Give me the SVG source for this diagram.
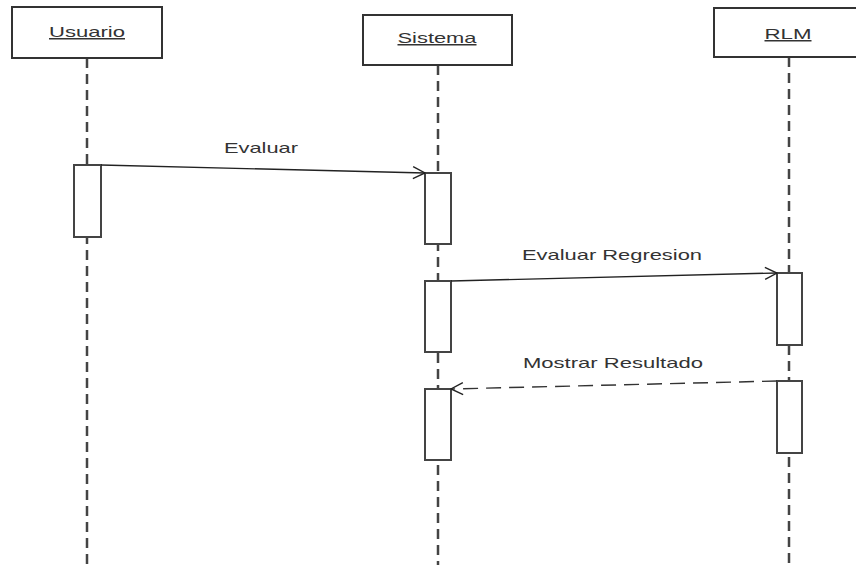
<svg xmlns="http://www.w3.org/2000/svg" width="856" height="565" viewBox="0 0 856 565">
  <style>
    .head { fill: #ffffff; stroke: #333333; stroke-width: 2; }
    .act { fill: #ffffff; stroke: #444444; stroke-width: 2; }
    .life { stroke: #444444; stroke-width: 2.5; stroke-dasharray: 10 6; fill: none; }
    .msg { stroke: #222222; stroke-width: 1.4; fill: none; }
    .ret { stroke: #333333; stroke-width: 1.4; fill: none; stroke-dasharray: 15 8; }
    .title { font-family: "Liberation Sans", Arial, sans-serif; font-size: 15px; fill: #333333; text-decoration: underline; }
    .label { font-family: "Liberation Sans", Arial, sans-serif; font-size: 15px; fill: #333333; }
  </style>
  <defs>
    <marker id="open" viewBox="0 0 14 14" refX="13" refY="7" markerWidth="14" markerHeight="14" markerUnits="userSpaceOnUse" orient="auto">
      <path d="M1,1 L13,7 L1,13" fill="none" stroke="#222222" stroke-width="1.4"/>
    </marker>
  </defs>
  <rect width="856" height="565" fill="#ffffff"/>

  <!-- lifelines -->
  <g id="lifelines">
    <line class="life" x1="87" y1="58" x2="87" y2="565"/>
    <line class="life" x1="438" y1="65" x2="438" y2="565"/>
    <line class="life" x1="789" y1="57" x2="789" y2="565"/>
  </g>

  <g id="usuario">
    <rect class="head" x="12" y="7" width="150" height="51"/>
    <text class="title" x="87" y="37" text-anchor="middle" textLength="76" lengthAdjust="spacingAndGlyphs">Usuario</text>
    <rect class="act" x="74" y="165" width="27" height="72"/>
  </g>

  <g id="sistema">
    <rect class="head" x="363" y="15" width="149" height="50"/>
    <text class="title" x="437" y="43" text-anchor="middle" textLength="79" lengthAdjust="spacingAndGlyphs">Sistema</text>
    <rect class="act" x="425" y="173" width="26" height="71"/>
    <rect class="act" x="425" y="281" width="26" height="71"/>
    <rect class="act" x="425" y="389" width="26" height="71"/>
  </g>

  <g id="rlm">
    <rect class="head" x="714" y="8" width="150" height="49"/>
    <text class="title" x="788" y="39" text-anchor="middle" textLength="47" lengthAdjust="spacingAndGlyphs">RLM</text>
    <rect class="act" x="777" y="273" width="25" height="72"/>
    <rect class="act" x="777" y="381" width="25" height="72"/>
  </g>

  <g id="connectors">
    <line class="msg" x1="101" y1="165" x2="425" y2="173" marker-end="url(#open)"/>
    <text class="label" x="261" y="153" text-anchor="middle" textLength="74" lengthAdjust="spacingAndGlyphs">Evaluar</text>

    <line class="msg" x1="451" y1="281" x2="777" y2="273" marker-end="url(#open)"/>
    <text class="label" x="612" y="260" text-anchor="middle" textLength="180" lengthAdjust="spacingAndGlyphs">Evaluar Regresion</text>

    <line class="ret" x1="777" y1="381" x2="451" y2="389" marker-end="url(#open)"/>
    <text class="label" x="613" y="368" text-anchor="middle" textLength="180" lengthAdjust="spacingAndGlyphs">Mostrar Resultado</text>
  </g>
</svg>
